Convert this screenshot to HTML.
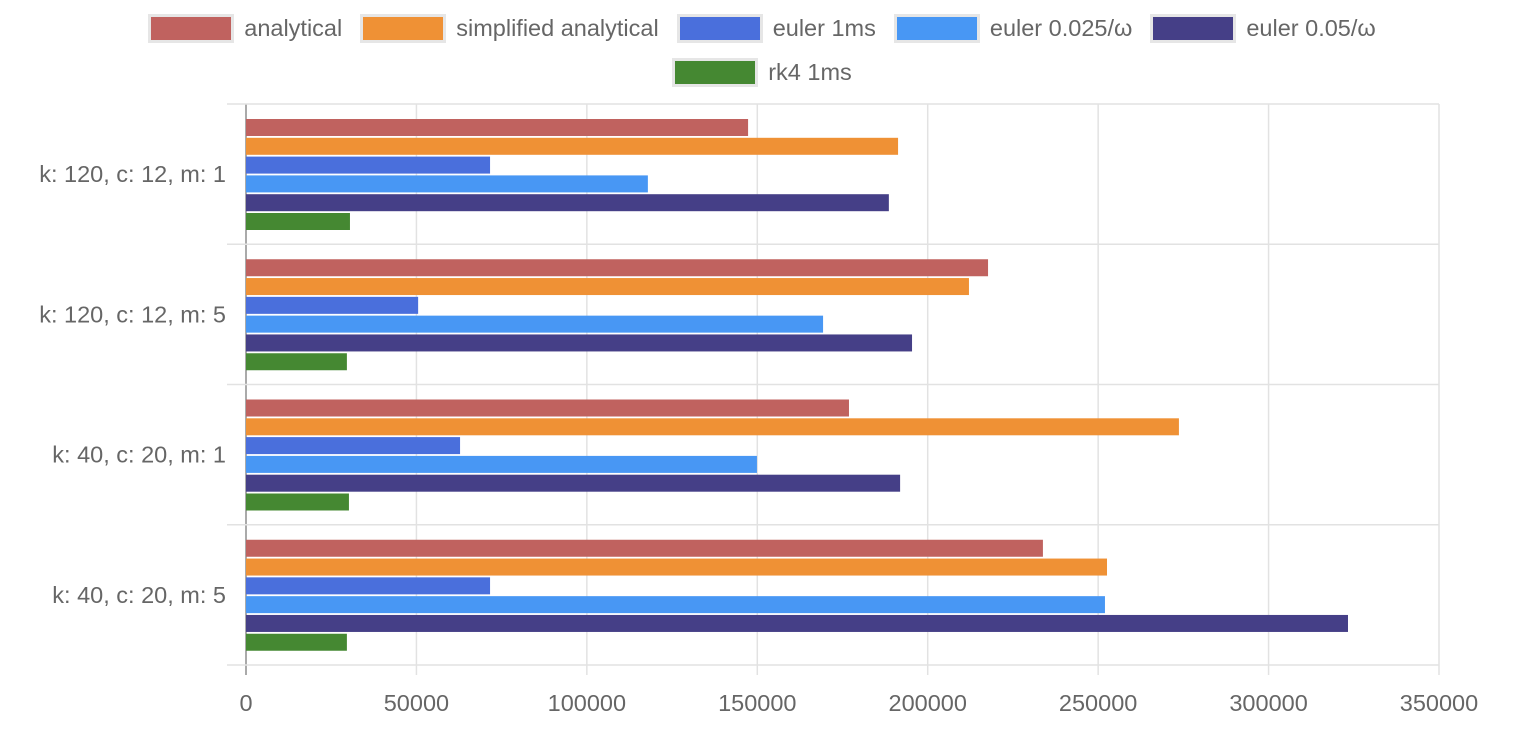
<!DOCTYPE html>
<html><head><meta charset="utf-8"><style>
body{margin:0;background:#fff;font-family:"Liberation Sans",sans-serif;}
#legend{position:absolute;left:0;top:13px;width:1524px;color:#666;font-size:23.5px}
.row{display:flex;justify-content:center;height:30px;margin-bottom:14px}
.item{display:flex;align-items:center;margin:0 9px}
.box{width:80px;height:23px;border:3px solid #e6e6e6;margin-right:10px}
</style></head><body>
<div id="legend"></div>
<svg id="chart" width="1524" height="752" style="position:absolute;left:0;top:0"></svg>
<script>
const categories=["k: 120, c: 12, m: 1","k: 120, c: 12, m: 5","k: 40, c: 20, m: 1","k: 40, c: 20, m: 5"];
const seriesNames=["analytical","simplified analytical","euler 1ms","euler 0.025/ω","euler 0.05/ω","rk4 1ms"];
const analytical=[147300,217700,176900,233800];
const simplifiedAnalytical=[191300,212100,273700,252600];
const euler1ms=[71600,50500,62800,71600];
const euler0025=[117900,169300,149900,252000];
const euler005=[188600,195400,191900,323300];
const rk4=[30500,29600,30200,29600];
const xTicks=[0,50000,100000,150000,200000,250000,300000,350000];
const colors=["#c0625f","#ef9135","#4a6fdc","#4897f4","#453f87","#458832"];
const series=[analytical,simplifiedAnalytical,euler1ms,euler0025,euler005,rk4];
const L=246,R=1439,T=104,B=665,xMax=350000;
const xs=v=>L+(R-L)*v/xMax;
const rowH=(B-T)/categories.length;
const svg=document.getElementById('chart');
const NS="http://www.w3.org/2000/svg";
function mk(t,a){const e=document.createElementNS(NS,t);for(const k in a)e.setAttribute(k,a[k]);svg.appendChild(e);return e;}
xTicks.forEach((t,i)=>{
  const x=xs(t);
  const g=mk('line',{x1:x,x2:x,y1:T,y2:B+10,stroke:i==0?'#aaa':'#e2e2e2','stroke-width':i==0?2:1.5});
  
  
  const tx=mk('text',{x:x,y:711,'text-anchor':'middle','font-size':23.5,fill:'#666','font-family':'Liberation Sans, sans-serif'});
  tx.textContent=t;
  
  
});
for(let i=0;i<=categories.length;i++){
  const y=T+i*rowH;
  const g=mk('line',{x1:227,x2:R,y1:y,y2:y,stroke:'#e2e2e2','stroke-width':1.5});
  
  
}
categories.forEach((c,ci)=>{
  const y0=T+ci*rowH;
  const tx=mk('text',{x:226,y:y0+rowH/2+8,'text-anchor':'end','font-size':23.5,fill:'#666','font-family':'Liberation Sans, sans-serif'});
  tx.textContent=c;
  
  
  series.forEach((s,si)=>{
    const r=mk('rect',{x:L,y:y0+15+si*18.8,width:xs(s[ci])-L,height:17,fill:colors[si]});
    
    
  });
});
const leg=document.getElementById('legend');
[[0,1,2,3,4],[5]].forEach(row=>{
  const r=document.createElement('div');r.className='row';leg.appendChild(r);
  row.forEach(i=>{
    const it=document.createElement('div');it.className='item';
    
    
    it.innerHTML='<div class="box" style="background:'+colors[i]+'"></div><span>'+seriesNames[i]+'</span>';
    r.appendChild(it);
  });
});
</script>
</body></html>
